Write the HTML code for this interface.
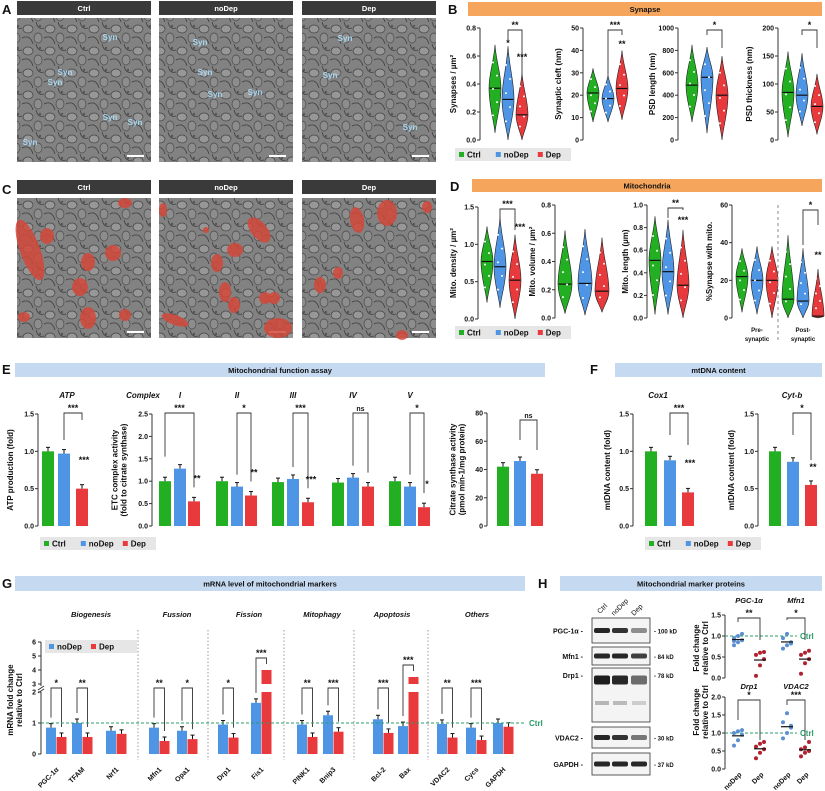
<!DOCTYPE html>
<html><head><meta charset="utf-8">
<style>
html,body{margin:0;padding:0;background:#fff;}
svg{display:block;font-family:"Liberation Sans",Arial,sans-serif;}
</style></head>
<body>
<svg id="fig" width="825" height="791" viewBox="0 0 825 791" xmlns="http://www.w3.org/2000/svg">
<defs>
<pattern id="em" width="22" height="22" patternUnits="userSpaceOnUse">
<rect width="22" height="22" fill="#828282"/>
<ellipse cx="6" cy="7" rx="5" ry="4" fill="#979797" stroke="#444" stroke-width="0.7"/>
<ellipse cx="16" cy="16" rx="4" ry="5" fill="#8d8d8d" stroke="#4a4a4a" stroke-width="0.7"/>
<path d="M0 16 Q8 12 11 22 M14 0 Q16 8 22 6" stroke="#3e3e3e" fill="none" stroke-width="0.8"/>
<circle cx="18" cy="4" r="1.2" fill="#555"/>
</pattern>
</defs>
<g id="root"></g>
</svg>
<script>
// ===== data =====
const groups = ["Ctrl","noDep","Dep"];
const synMed = [0.37,0.29,0.18], synMin=[0.05,0.0,0.0], synMax=[0.68,0.67,0.48];
const cleftMed = [21,18.5,23], cleftMin=[8,8,9], cleftMax=[32,29,40];
const psdLMed = [490,560,400], psdLMin=[160,60,0], psdLMax=[850,830,750];
const psdTMed = [85,80,60], psdTMin=[5,25,10], psdTMax=[158,155,118];
const mitoDMed=[0.77,0.7,0.52], mitoDMin=[0.22,0.15,0.0], mitoDMax=[1.24,1.37,1.13];
const mitoVMed=[0.24,0.245,0.19], mitoVMin=[0.03,0.02,0.04], mitoVMax=[0.62,0.63,0.57];
const mitoLMed=[0.51,0.41,0.29], mitoLMin=[0.03,0.03,0.0], mitoLMax=[0.9,0.87,0.78];
const preMed=[22,20,20], preMin=[3,2,0], preMax=[37,38,38];
const postMed=[10,9,1], postMin=[0,0,0], postMax=[44,37,26];
const atpMeans=[1.0,0.97,0.5];
const etcLabels=["I","II","III","IV","V"];
const etcMeans=[[1.0,1.28,0.55],[1.0,0.88,0.68],[0.98,1.05,0.53],[0.97,1.08,0.88],[1.0,0.88,0.42]];
const csMeans=[42,46,37];
const cox1Means=[1.0,0.88,0.45];
const cytbMeans=[1.0,0.86,0.55];
const mrnaGenes=["PGC-1α","TFAM","Nrf1","Mfn1","Opa1","Drp1","Fis1","PINK1","Bnip3","Bcl-2","Bax","VDAC2","Cycs","GAPDH"];
const mrnaNoDep=[0.85,1.0,0.75,0.85,0.75,0.95,1.65,0.95,1.25,1.12,0.9,0.97,0.85,1.0];
const mrnaDep=[0.55,0.55,0.65,0.42,0.48,0.53,4.0,0.55,0.72,0.68,3.5,0.53,0.45,0.88];
const mrnaSig=["*","**","","**","*","*","***","**","***","***","***","**","***",""];
const mrnaCats=["Biogenesis","Fussion","Fission","Mitophagy","Apoptosis","Others"];
const hProteins=["PGC-1α","Mfn1","Drp1","VDAC2"];
const hNoDepPts=[[0.78,0.85,0.9,0.95,1.0,1.05,0.88],[0.7,0.78,0.85,0.95,1.05,0.82],[0.65,0.8,0.95,1.0,1.05,1.08],[0.85,1.0,1.15,1.3,1.55,1.2]];
const hDepPts=[[0.05,0.3,0.45,0.55,0.6,0.62],[0.1,0.35,0.45,0.55,0.6,0.65],[0.3,0.45,0.55,0.62,0.7,0.75],[0.35,0.45,0.5,0.55,0.6,0.75]];

// ===== helpers =====
const NS="http://www.w3.org/2000/svg";
const root=document.getElementById("root");
const COL=["#22b022","#4e95e6","#e8393c"];
function el(tag,attrs,parent){const e=document.createElementNS(NS,tag);for(const k in attrs)e.setAttribute(k,attrs[k]);(parent||root).appendChild(e);return e;}
function txt(x,y,s,o){o=o||{};const t=el("text",{x:x,y:y,"font-size":o.fs||7,"font-weight":o.fw||"bold","text-anchor":o.anchor||"middle",fill:o.fill||"#111"});
 if(o.italic)t.setAttribute("font-style","italic");if(o.rot)t.setAttribute("transform","rotate("+o.rot+" "+x+" "+y+")");t.textContent=s;return t;}
function scale(v0,v1,p0,p1){return v=>p0+(v-v0)/(v1-v0)*(p1-p0);}
function yAxis(x,yTop,yBot,vmax,ticks,fmt,label,lx){
 const y=scale(0,vmax,yBot,yTop);
 const g=el("g",{});
 
 
 el("line",{x1:x,y1:yTop,x2:x,y2:yBot,stroke:"#333","stroke-width":1},g);
 ticks.forEach(t=>{el("line",{x1:x-3,y1:y(t),x2:x,y2:y(t),stroke:"#333"},g);const tt=txt(x-4,y(t)+2.5,fmt(t),{anchor:"end",fs:7});g.appendChild(tt);});
 if(label){const lines=label.split("\n");lines.forEach((l,i)=>{const xx=lx+(i-(lines.length-1)/2)*9;const t=txt(xx,(yTop+yBot)/2,l,{fs:8,rot:-90});g.appendChild(t);});}
 return y;}
function header(x,y,w,h,s,color,name){const g=el("g",{});
 el("rect",{x:x,y:y,width:w,height:h,fill:color},g);g.appendChild(txt(x+w/2,y+h/2+3,s,{fs:7.5,fill:color=="#3a3a3a"?"#fff":"#111"}));}
function panelLetter(x,y,s){const t=txt(x,y,s,{fs:13,anchor:"start"});}
function violin(cx,y,min,med,max,color,hw){
 const yt=y(max),yb=y(min),ym=y(med);
 const d=`M${cx},${yt} C${cx+hw*0.2},${yt+(ym-yt)*0.4} ${cx+hw},${ym-(ym-yt)*0.35} ${cx+hw},${ym} C${cx+hw},${ym+(yb-ym)*0.4} ${cx+hw*0.2},${yb-(yb-ym)*0.3} ${cx},${yb} C${cx-hw*0.2},${yb-(yb-ym)*0.3} ${cx-hw},${ym+(yb-ym)*0.4} ${cx-hw},${ym} C${cx-hw},${ym-(ym-yt)*0.35} ${cx-hw*0.2},${yt+(ym-yt)*0.4} ${cx},${yt}Z`;
 const p=el("path",{d:d,fill:color,stroke:"#222","stroke-width":0.6});
 
 
 el("line",{x1:cx-hw*0.9,y1:ym,x2:cx+hw*0.9,y2:ym,stroke:"#111","stroke-width":1.2});
 for(let i=0;i<5;i++){const v=min+(max-min)*(0.2+0.15*i);el("circle",{cx:cx+((i%2)?2:-2),cy:y(v),r:1,fill:"#fff"});}
}
function bracket(x1,x2,yTop,y1,y2,label){
 el("path",{d:`M${x1},${y1} L${x1},${yTop} L${x2},${yTop} L${x2},${y2}`,fill:"none",stroke:"#333","stroke-width":0.9});
 if(label)txt((x1+x2)/2,yTop-2,label,{fs:label=="ns"?7:9});}
function bar(cx,w,y,v,color,base){const yb=base!==undefined?base:y(0);const r=el("rect",{x:cx-w/2,y:y(v),width:w,height:yb-y(v),fill:color});
 
 
 el("line",{x1:cx,y1:y(v),x2:cx,y2:y(v)-4,stroke:"#111","stroke-width":1});
 el("line",{x1:cx-2,y1:y(v)-4,x2:cx+2,y2:y(v)-4,stroke:"#111","stroke-width":1});
 return r;}
function legend(x,y,items){const g=el("g",{});
 const w=items.length==3?116:92;el("rect",{x:x,y:y,width:w,height:13,fill:"#e6e6e6"},g);
 let xx=x+4;items.forEach(it=>{el("rect",{x:xx,y:y+4,width:5,height:5,fill:it[1]},g);const t=txt(xx+8,y+9.5,it[0],{fs:8,anchor:"start"});g.appendChild(t);xx+=8+it[0].length*5.2+8;});}

// ===== Panel A & C micrographs =====
const imgX=[17,159,302],imgW=134;
function micro(yH,yI,hI,prefix){groups.forEach((gname,i)=>{
 header(imgX[i],yH,imgW,14,gname,"#3a3a3a",prefix+"-header-"+gname.toLowerCase());
 const r=el("rect",{x:imgX[i],y:yI,width:imgW,height:hI,fill:"url(#em)"});
 
 
 el("rect",{x:imgX[i]+110,y:yI+hI-7,width:17,height:2,fill:"#fff"});
});}
panelLetter(2,14,"A");
micro(1,18,144,"a");
const synPos=[[30,145],[65,75],[55,85],[110,120],[135,125],[110,40],[200,45],[205,75],[215,97],[255,95],[345,41],[330,78],[410,130]];
synPos.forEach(p=>{txt(p[0],p[1],"Syn",{fs:8,fill:"#a9d8f2",anchor:"middle"});});
panelLetter(2,194,"C");
micro(180,198,140,"c");
const mitoBlobs=[[30,250,10,32,-20],[47,236,7,8,0],[88,262,7,9,0],[80,287,8,9,0],[113,253,8,8,0],[88,318,8,11,0],[125,315,6,6,0],[24,317,6,5,0],[125,203,7,5,0],[163,210,4,7,0],[259,230,8,15,-40],[206,230,3,3,0],[235,250,8,7,0],[217,263,6,9,0],[225,292,6,10,0],[234,305,6,8,0],[265,298,6,6,0],[274,298,6,6,0],[175,320,14,5,20],[278,328,14,10,0],[357,220,7,13,-10],[387,213,10,13,0],[427,207,5,6,0],[338,273,5,6,0],[320,285,6,8,0],[402,335,6,5,0]];
mitoBlobs.forEach(b=>{const e=el("ellipse",{cx:b[0],cy:b[1],rx:b[2],ry:b[3],fill:"#d4483a","fill-opacity":0.85,transform:`rotate(${b[4]} ${b[0]} ${b[1]})`});});

// ===== Panel B =====
panelLetter(448,14,"B");
header(468,2,354,14,"Synapse","#f5a55c","synapse-header");
function violinPlot(ax,yTop,yBot,vmax,ticks,fmt,label,lx,xs,mins,meds,maxs,hw){
 const y=yAxis(ax,yTop,yBot,vmax,ticks,fmt,label,lx);
 xs.forEach((cx,i)=>violin(cx,y,mins[i],meds[i],maxs[i],COL[i],hw));return y;}
violinPlot(480,28,140,0.8,[0,0.2,0.4,0.6,0.8],v=>v.toFixed(1),"Synapses / µm²",456,[495,508,522],synMin,synMed,synMax,6);
bracket(508,522,30,40,78,"**");txt(508,46,"*",{fs:9});txt(522,60,"***",{fs:9});
violinPlot(583,28,140,50,[0,10,20,30,40,50],v=>v,"Synaptic cleft (nm)",561,[593,608,622],cleftMin,cleftMed,cleftMax,6);
bracket(608,622,30,75,35,"***");txt(622,47,"**",{fs:9});
violinPlot(678,28,140,1000,[0,200,400,600,800,1000],v=>v,"PSD length (nm)",655,[692,707,722],psdLMin,psdLMed,psdLMax,6);
bracket(707,722,30,35,48,"*");
violinPlot(778,28,140,200,[0,50,100,150,200],v=>v,"PSD thickness (nm)",752,[788,802,817],psdTMin,psdTMed,psdTMax,6);
bracket(802,817,30,35,48,"*");
legend(455,148,[["Ctrl",COL[0]],["noDep",COL[1]],["Dep",COL[2]]]);

// ===== Panel D =====
panelLetter(450,191,"D");
header(472,179,350,13,"Mitochondria","#f5a55c","mitochondria-header");
violinPlot(478,207,319,1.5,[0,0.5,1.0,1.5],v=>v.toFixed(1),"Mito. density / µm²",456,[487,500,515],mitoDMin,mitoDMed,mitoDMax,6);
bracket(500,515,209,218,230,"***");txt(520,230,"***",{fs:9});
violinPlot(555,205,318,0.8,[0,0.2,0.4,0.6,0.8],v=>v.toFixed(1),"Mito. volume / µm²",535,[565,585,602],mitoVMin,mitoVMed,mitoVMax,7);
violinPlot(647,205,318,1.0,[0,0.2,0.4,0.6,0.8,1.0],v=>v.toFixed(1),"Mito. length (µm)",628,[655,668,683],mitoLMin,mitoLMed,mitoLMax,6);
bracket(668,683,208,218,210,"**");txt(683,223,"***",{fs:9});
const yPre=violinPlot(732,205,318,60,[0,20,40,60],v=>v,"%Synapse with mito.",712,[742,757,772],preMin,preMed,preMax,6);
[788,803,818].forEach((cx,i)=>violin(cx,yPre,postMin[i],postMed[i],postMax[i],COL[i],6));
el("line",{x1:778,y1:205,x2:778,y2:340,stroke:"#888","stroke-dasharray":"3,3"});
bracket(803,818,210,245,225,"*");txt(818,258,"**",{fs:9});
txt(757,332,"Pre-",{fs:6});txt(757,341,"synaptic",{fs:6});txt(803,332,"Post-",{fs:6});txt(803,341,"synaptic",{fs:6});
legend(455,326,[["Ctrl",COL[0]],["noDep",COL[1]],["Dep",COL[2]]]);

// ===== Panel E =====
panelLetter(2,374,"E");
header(15,363,530,14,"Mitochondrial function assay","#c5d9f1","function-assay-header");
const yATP=yAxis(38,414,526,1.5,[0,0.5,1.0,1.5],v=>v.toFixed(1),"ATP production (fold)",13);
txt(67,398,"ATP",{fs:8,italic:true});
[48,64,82].forEach((cx,i)=>bar(cx,12,yATP,atpMeans[i],COL[i]));
bracket(64,82,413,440,420,"***");txt(84,463,"***",{fs:9});
const yETC=yAxis(152,414,526,2.5,[0,0.5,1.0,1.5,2.0,2.5],v=>v.toFixed(1),"ETC complex activity\n(fold to citrate synthase)",122);
txt(143,398,"Complex",{fs:8,italic:true});
const etcX=[[165,180,194],[222,237,251],[278,293,308],[338,353,368],[395,410,424]];
const etcSig=["***","*","***","ns","*"],etcSig2=["**","**","***","","*"];
etcX.forEach((xs,g)=>{txt(xs[1],398,etcLabels[g],{fs:8,italic:true});
 xs.forEach((cx,i)=>bar(cx,12,yETC,etcMeans[g][i],COL[i]));
 bracket(xs[0]+(g==0?0:15),xs[2],413,yETC(etcMeans[g][1])-12,yETC(etcMeans[g][2])-14,etcSig[g]);
 if(etcSig2[g])txt(xs[2]+3,yETC(etcMeans[g][2])-20,etcSig2[g],{fs:9});});
const yCS=yAxis(487,413,526,80,[0,20,40,60,80],v=>v,"Citrate synthase activity\n(pmol min-1/mg protein)",460);
[503,520,537].forEach((cx,i)=>bar(cx,12,yCS,csMeans[i],COL[i]));
bracket(520,537,420,440,450,"ns");
legend(40,537,[["Ctrl",COL[0]],["noDep",COL[1]],["Dep",COL[2]]]);

// ===== Panel F =====
panelLetter(590,374,"F");
header(615,363,207,14,"mtDNA content","#c5d9f1","mtdna-header");
const yCox=yAxis(633,414,526,1.5,[0,0.5,1.0,1.5],v=>v.toFixed(1),"mtDNA content (fold)",610);
txt(658,398,"Cox1",{fs:8,italic:true});
[651,670,688].forEach((cx,i)=>bar(cx,12,yCox,cox1Means[i],COL[i]));
bracket(670,688,413,435,445,"***");txt(690,466,"***",{fs:9});
const yCyt=yAxis(758,414,526,1.5,[0,0.5,1.0,1.5],v=>v.toFixed(1),"mtDNA content (fold)",734);
txt(792,398,"Cyt-b",{fs:8,italic:true});
[775,793,811].forEach((cx,i)=>bar(cx,12,yCyt,cytbMeans[i],COL[i]));
bracket(793,811,413,435,460,"*");txt(813,470,"**",{fs:9});
legend(645,537,[["Ctrl",COL[0]],["noDep",COL[1]],["Dep",COL[2]]]);

// ===== Panel G =====
panelLetter(2,588,"G");
header(15,576,510,15,"mRNA level of mitochondrial markers","#c5d9f1","mrna-header");
const gx=41,gLow=scale(0,2,754,692),gHigh=scale(3,6,684,642);
function gy(v){return v<=2?gLow(v):gHigh(Math.max(3,v));}
(function(){const g=el("g",{});
 el("line",{x1:gx,y1:692,x2:gx,y2:754,stroke:"#333"},g);el("line",{x1:gx,y1:642,x2:gx,y2:686,stroke:"#333"},g);
 el("path",{d:"M38,690 L44,686 M38,693 L44,689",stroke:"#333",fill:"none"},g);
 [0,1,2].forEach(t=>{el("line",{x1:gx-3,y1:gLow(t),x2:gx,y2:gLow(t),stroke:"#333"},g);g.appendChild(txt(gx-5,gLow(t)+2.5,String(t),{anchor:"end"}));});
 [3,4,5,6].forEach(t=>{el("line",{x1:gx-3,y1:gHigh(t),x2:gx,y2:gHigh(t),stroke:"#333"},g);g.appendChild(txt(gx-5,gHigh(t)+2.5,String(t),{anchor:"end"}));});
 g.appendChild(txt(13,700,"mRNA fold change",{fs:8,rot:-90}));g.appendChild(txt(22,700,"relative to Ctrl",{fs:8,rot:-90}));})();
const gBlue=[51,77,111,154,182,223,256,302,328,378,403,442,471,498];
gBlue.forEach((bx,i)=>{
 bar(bx,10,gy,mrnaNoDep[i],COL[1]);
 const rx=bx+10.5;const v=mrnaDep[i];
 if(v>2){const r1=el("rect",{x:rx-5,y:gLow(2),width:10,height:754-gLow(2),fill:COL[2]});
  const r2=el("rect",{x:rx-5,y:gy(v),width:10,height:684-gy(v),fill:COL[2]});}
 else bar(rx,10,gy,v,COL[2]);
 if(mrnaSig[i]){const top=v>2?gy(v)-12:688;bracket(bx,rx,top,gy(mrnaNoDep[i])-10,v>2?gy(v)-6:gy(v)-10,mrnaSig[i]);}
 txt(bx+8,770,mrnaGenes[i],{fs:7,anchor:"end",rot:-45});
});
const catX=[91,177,249,322,392,477];
mrnaCats.forEach((c,i)=>txt(catX[i],617,c,{fs:7.5,italic:true}));
[138,208,284,354,428].forEach(x=>el("line",{x1:x,y1:630,x2:x,y2:760,stroke:"#999","stroke-dasharray":"1.5,2"}));
el("line",{x1:gx,y1:gLow(1),x2:525,y2:gLow(1),stroke:"#2a9d6a","stroke-dasharray":"3,2"});
txt(529,726,"Ctrl",{fs:8,anchor:"start",fill:"#2a9d6a"});
legend(45,640,[["noDep",COL[1]],["Dep",COL[2]]]);

// ===== Panel H =====
panelLetter(538,588,"H");
header(560,576,262,15,"Mitochondrial marker proteins","#c5d9f1","proteins-header");
txt(600,614,"Ctrl",{fs:7,anchor:"start",rot:-45,fw:"normal"});txt(614,616,"noDep",{fs:7,anchor:"start",rot:-45,fw:"normal"});txt(634,616,"Dep",{fs:7,anchor:"start",rot:-45,fw:"normal"});
const blotY=[[618,643,"PGC-1α","100 kD"],[647,665,"Mfn1","84 kD"],[668,722,"Drp1","78 kD"],[727,748,"VDAC2","30 kD"],[753,775,"GAPDH","37 kD"]];
const bandI=[[0.9,0.85,0.45],[0.9,0.9,0.8],[0.95,0.9,0.6],[0.9,0.85,0.55],[0.9,0.9,0.9]];
blotY.forEach((b,k)=>{const g=el("g",{});
 el("rect",{x:592,y:b[0],width:58,height:b[1]-b[0],fill:"#f4f4f4",stroke:"#333","stroke-width":0.8},g);
 const cy=k==2?b[0]+10:(b[0]+b[1])/2;
 [602,620,639].forEach((lx,i)=>{el("rect",{x:lx-8,y:cy-2.5,width:16,height:k==2?9:5,rx:2,fill:"#111","fill-opacity":bandI[k][i]},g);
  if(k==2)el("rect",{x:lx-7,y:b[0]+33,width:14,height:4,fill:"#888","fill-opacity":bandI[k][i]*0.6},g);});
 g.appendChild(txt(583,b[0]+(k==2?10:(b[1]-b[0])/2+3),b[2]+" -",{fs:7,anchor:"end"}));
 g.appendChild(txt(654,b[0]+(k==2?10:(b[1]-b[0])/2+3),"- "+b[3],{fs:6,anchor:"start"}));});
function dotPlot(ax,yTop,yBot,vmax,ticks,xsPairs,idx,titles,titleY){
 const y=yAxis(ax,yTop,yBot,vmax,ticks,v=>v.toFixed(1),null,0);
 el("line",{x1:ax,y1:y(1),x2:797,y2:y(1),stroke:"#2a9d6a","stroke-dasharray":"3,2"});
 txt(800,y(1)+3,"Ctrl",{fs:8,anchor:"start",fill:"#2a9d6a"});
 xsPairs.forEach((xs,j)=>{const p=idx[j];txt((xs[0]+xs[1])/2,titleY,titles[j],{fs:7.5,italic:true});
  [hNoDepPts[p],hDepPts[p]].forEach((pts,s)=>{pts.forEach((v,q)=>{const c=el("circle",{cx:xs[s]+((q%3)-1)*4,cy:y(v),r:2,fill:s?"#b0202e":"#5b8fd1"});});
   const m=pts.reduce((a,b)=>a+b,0)/pts.length;el("line",{x1:xs[s]-6,y1:y(m),x2:xs[s]+6,y2:y(m),stroke:"#111","stroke-width":1.2});});
 });return y;}
dotPlot(725,615,678,1.5,[0,0.5,1.0,1.5],[[738,760],[787,805]],[0,1],["PGC-1α","Mfn1"],603);
bracket(738,760,618,622,640,"**");bracket(787,805,618,620,640,"*");
dotPlot(725,697,769,2.0,[0,0.5,1.0,1.5,2.0],[[738,760],[787,805]],[2,3],["Drp1","VDAC2"],689);
bracket(738,760,700,720,740,"*");bracket(787,805,700,705,740,"***");
txt(699,712,"Fold change",{fs:8,rot:-90});txt(708,712,"relative to Ctrl",{fs:8,rot:-90});
txt(699,648,"Fold change",{fs:8,rot:-90});txt(708,648,"relative to Ctrl",{fs:8,rot:-90});
[[738,"noDep"],[760,"Dep"],[787,"noDep"],[805,"Dep"]].forEach(a=>txt(a[0]+4,775,a[1],{fs:7,anchor:"end",rot:-45}));
</script>
</body></html>
